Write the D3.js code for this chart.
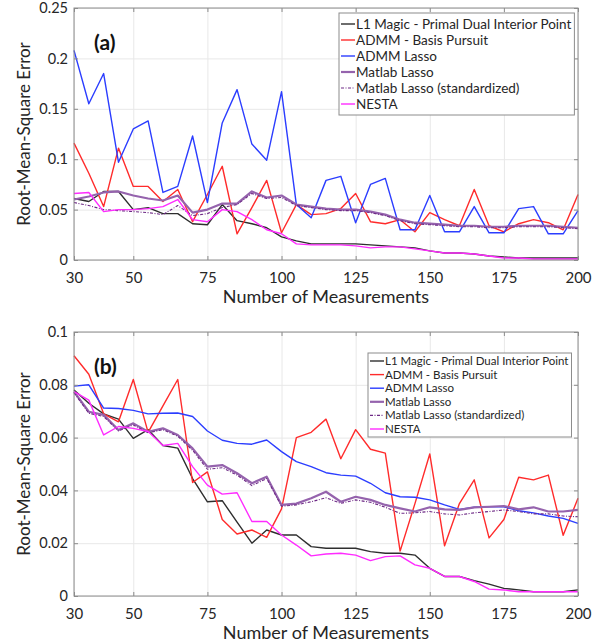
<!DOCTYPE html>
<html>
<head>
<meta charset="utf-8">
<script src="https://cdn.jsdelivr.net/npm/d3@7"></script>
<style>
body { margin: 0; background: #fff; }
svg text { font-family: Lato, "Open Sans", sans-serif; fill: #262626; }
.grid line { stroke: #e8e8e8; }
.grid path { display: none; }
.axis path { display: none; }
.axis line { stroke: #8c8c8c; }
</style>
</head>
<body>
<svg id="chart" width="607" height="642"></svg>
<script>
// number of measurements (x) and tick labels
var measurements = [30, 35, 40, 45, 50, 55, 60, 65, 70, 75, 80, 85, 90, 95, 100, 105, 110, 115, 120,
  125, 130, 135, 140, 145, 150, 155, 160, 165, 170, 175, 180, 185, 190, 195, 200];
var xTicks = [30, 50, 75, 100, 125, 150, 175, 200];
var yTicksA = [0, 0.05, 0.1, 0.15, 0.2, 0.25];
var yTicksB = [0, 0.02, 0.04, 0.06, 0.08, 0.1];

var seriesNames = ['L1 Magic - Primal Dual Interior Point', 'ADMM - Basis Pursuit', 'ADMM Lasso',
  'Matlab Lasso', 'Matlab Lasso (standardized)', 'NESTA'];

// panel (a)
var a_l1 = [0.061, 0.058, 0.068, 0.068, 0.050, 0.052, 0.046, 0.046, 0.036, 0.035, 0.055, 0.039, 0.036, 0.032, 0.023,
  0.019, 0.016, 0.016, 0.016, 0.016, 0.015, 0.014, 0.013, 0.012, 0.009, 0.007, 0.007, 0.006, 0.004, 0.003,
  0.002, 0.002, 0.002, 0.002, 0.002];
var a_bp = [0.116, 0.086, 0.053, 0.111, 0.073, 0.073, 0.058, 0.070, 0.038, 0.065, 0.093, 0.026, 0.052, 0.079, 0.027,
  0.055, 0.045, 0.046, 0.051, 0.066, 0.038, 0.036, 0.040, 0.028, 0.047, 0.040, 0.034, 0.070, 0.034, 0.028,
  0.036, 0.040, 0.037, 0.030, 0.065];
var a_lasso = [0.208, 0.155, 0.185, 0.097, 0.130, 0.138, 0.067, 0.073, 0.123, 0.057, 0.136, 0.169, 0.115, 0.099, 0.167,
  0.055, 0.042, 0.079, 0.083, 0.037, 0.075, 0.081, 0.030, 0.030, 0.064, 0.028, 0.028, 0.053, 0.027, 0.027,
  0.051, 0.053, 0.026, 0.026, 0.049];
var a_matlab = [0.060, 0.063, 0.067, 0.068, 0.064, 0.061, 0.059, 0.064, 0.047, 0.050, 0.056, 0.056, 0.068, 0.062, 0.064,
  0.055, 0.053, 0.051, 0.050, 0.050, 0.048, 0.045, 0.040, 0.037, 0.036, 0.035, 0.034, 0.034, 0.033, 0.033,
  0.034, 0.034, 0.034, 0.033, 0.032];
var a_matlabStd = [0.057, 0.054, 0.050, 0.049, 0.048, 0.047, 0.045, 0.054, 0.044, 0.046, 0.052, 0.055, 0.066, 0.061, 0.062,
  0.054, 0.052, 0.050, 0.049, 0.049, 0.047, 0.044, 0.039, 0.036, 0.035, 0.034, 0.033, 0.033, 0.032, 0.032,
  0.033, 0.033, 0.033, 0.032, 0.031];
var a_nesta = [0.066, 0.067, 0.048, 0.050, 0.050, 0.051, 0.053, 0.060, 0.040, 0.038, 0.050, 0.048, 0.040, 0.030, 0.026,
  0.016, 0.015, 0.015, 0.015, 0.014, 0.012, 0.013, 0.013, 0.011, 0.009, 0.007, 0.007, 0.006, 0.004, 0.002,
  0.002, 0.001, 0.001, 0.001, 0.001];

// panel (b)
var b_l1 = [0.078, 0.073, 0.069, 0.067, 0.0597, 0.063, 0.057, 0.056, 0.0445, 0.0357, 0.0361, 0.028, 0.020, 0.025, 0.0231,
  0.0231, 0.0187, 0.0181, 0.0181, 0.0181, 0.0168, 0.0162, 0.0162, 0.0155, 0.0105, 0.0074, 0.0074, 0.0058, 0.0045, 0.0029,
  0.0023, 0.0016, 0.0016, 0.0016, 0.0023];
var b_bp = [0.091, 0.084, 0.069, 0.066, 0.082, 0.062, 0.072, 0.082, 0.043, 0.047, 0.029, 0.0235, 0.025, 0.0222, 0.033,
  0.060, 0.062, 0.067, 0.052, 0.063, 0.0556, 0.0541, 0.017, 0.035, 0.0538, 0.019, 0.035, 0.044, 0.022, 0.029,
  0.045, 0.044, 0.0458, 0.023, 0.037];
var b_lasso = [0.0795, 0.0800, 0.0712, 0.0710, 0.0703, 0.0690, 0.0692, 0.0693, 0.0680, 0.0625, 0.0590, 0.0578, 0.0575, 0.0591, 0.0547,
  0.0509, 0.0490, 0.0467, 0.0458, 0.0454, 0.0427, 0.0391, 0.0376, 0.0374, 0.0364, 0.0345, 0.0328, 0.0336, 0.0338, 0.0338,
  0.0323, 0.0315, 0.0303, 0.0294, 0.0275];
var b_matlab = [0.0774, 0.0698, 0.0686, 0.0629, 0.0654, 0.0622, 0.0635, 0.0610, 0.0559, 0.0490, 0.0496, 0.0465, 0.0427, 0.0452, 0.0345,
  0.0350, 0.0370, 0.0395, 0.0357, 0.0376, 0.0364, 0.0345, 0.0332, 0.0320, 0.0336, 0.0328, 0.0326, 0.0336, 0.0338, 0.0341,
  0.0328, 0.0336, 0.0320, 0.0320, 0.0326];
var b_matlabStd = [0.0770, 0.0692, 0.0680, 0.0625, 0.0648, 0.0618, 0.0630, 0.0605, 0.0552, 0.0480, 0.0486, 0.0458, 0.0418, 0.0445, 0.0340,
  0.0345, 0.0357, 0.0372, 0.0351, 0.0364, 0.0355, 0.0336, 0.0313, 0.0315, 0.0320, 0.0311, 0.0307, 0.0315, 0.0320, 0.0326,
  0.0320, 0.0311, 0.0311, 0.0303, 0.0300];
var b_nesta = [0.0774, 0.0742, 0.0610, 0.0642, 0.0635, 0.0623, 0.0570, 0.0578, 0.0490, 0.0420, 0.0386, 0.0391, 0.0282, 0.0282, 0.0231,
  0.0193, 0.0152, 0.0159, 0.0162, 0.0155, 0.0134, 0.0149, 0.0152, 0.0118, 0.0105, 0.0074, 0.0074, 0.0055, 0.0026, 0.0023,
  0.0016, 0.0016, 0.0016, 0.0016, 0.0016];

var styles = [
  { color: '#2e2e2e', width: 1.4, dash: null },
  { color: '#ff2b2b', width: 1.4, dash: null },
  { color: '#2b3dff', width: 1.4, dash: null },
  { color: '#9563ad', width: 2.2, dash: null },
  { color: '#6e2a86', width: 1.1, dash: '3,1.5,1,1.5' },
  { color: '#ff2bff', width: 1.4, dash: null }
];

var svg = d3.select('#chart');
var left = 74, right = 578;

function drawPanel(p) {
  var x = d3.scaleLinear().domain([30, 200]).range([left, right]);
  var y = d3.scaleLinear().domain([0, p.yMax]).range([p.top + p.h, p.top]);
  var g = svg.append('g');

  g.append('g').attr('class', 'grid')
    .attr('transform', 'translate(0,' + (p.top + p.h) + ')')
    .call(d3.axisBottom(x).tickValues(xTicks).tickSize(-p.h).tickFormat(''));
  g.append('g').attr('class', 'grid')
    .attr('transform', 'translate(' + left + ',0)')
    .call(d3.axisLeft(y).tickValues(p.yTicks).tickSize(-(right - left)).tickFormat(''));

  var line = d3.line()
    .x(function(d, i) { return x(measurements[i]); })
    .y(function(d) { return y(d); });

  p.series.forEach(function(s, i) {
    g.append('path')
      .attr('d', line(s))
      .attr('fill', 'none')
      .attr('stroke', styles[i].color)
      .attr('stroke-width', styles[i].width)
      .attr('stroke-dasharray', styles[i].dash)
      .attr('stroke-linejoin', 'round');
  });

  // axes with inward ticks
  g.append('g').attr('class', 'axis')
    .attr('transform', 'translate(0,' + (p.top + p.h) + ')')
    .call(d3.axisBottom(x).tickValues(xTicks).tickSizeInner(-4).tickSizeOuter(0).tickPadding(12))
    .selectAll('text').style('font-size', '15px');
  g.append('g').attr('class', 'axis')
    .attr('transform', 'translate(0,' + p.top + ')')
    .call(d3.axisTop(x).tickValues(xTicks).tickSizeInner(-4).tickSizeOuter(0).tickFormat(''));
  g.append('g').attr('class', 'axis')
    .attr('transform', 'translate(' + left + ',0)')
    .call(d3.axisLeft(y).tickValues(p.yTicks).tickSizeInner(-4).tickSizeOuter(0).tickPadding(6)
      .tickFormat(d3.format('~g')))
    .selectAll('text').style('font-size', '14.5px');
  g.append('g').attr('class', 'axis')
    .attr('transform', 'translate(' + right + ',0)')
    .call(d3.axisRight(y).tickValues(p.yTicks).tickSizeInner(-4).tickSizeOuter(0).tickFormat(''));

  g.append('rect')
    .attr('x', left).attr('y', p.top)
    .attr('width', right - left).attr('height', p.h)
    .attr('fill', 'none').attr('stroke', '#8c8c8c');

  g.append('text')
    .attr('x', (left + right) / 2).attr('y', p.top + p.h + 43)
    .attr('text-anchor', 'middle').style('font-size', '18px')
    .text('Number of Measurements');

  g.append('text')
    .attr('transform', 'translate(30,' + (p.top + p.h / 2) + ') rotate(-90)')
    .attr('text-anchor', 'middle').style('font-size', '17px')
    .text('Root-Mean-Square Error');

  g.append('text')
    .attr('x', left + 20).attr('y', p.top + 42)
    .style('font-size', '21px').style('font-weight', 'bold').style('fill', '#111')
    .text(p.label);

  // legend
  var lg = g.append('g').attr('transform', 'translate(' + p.legend.x + ',' + p.legend.y + ')');
  var box = lg.append('rect').attr('fill', '#fff').attr('stroke', '#8c8c8c');
  var maxW = 0;
  seriesNames.forEach(function(name, i) {
    var cy = p.legend.first + i * p.legend.row;
    lg.append('line')
      .attr('x1', 2).attr('x2', 16).attr('y1', cy).attr('y2', cy)
      .attr('stroke', styles[i].color)
      .attr('stroke-width', styles[i].width)
      .attr('stroke-dasharray', styles[i].dash);
    var t = lg.append('text')
      .attr('x', 17).attr('y', cy).attr('dy', '0.35em')
      .style('font-size', p.legend.font + 'px')
      .text(name);
    maxW = Math.max(maxW, t.node().getComputedTextLength());
  });
  box.attr('width', maxW + 20)
    .attr('height', p.legend.first * 2 + (seriesNames.length - 1) * p.legend.row);
}

drawPanel({
  top: 8, h: 252, yMax: 0.25, yTicks: yTicksA, label: '(a)',
  series: [a_l1, a_bp, a_lasso, a_matlab, a_matlabStd, a_nesta],
  legend: { x: 339, y: 13, first: 11, row: 16, font: 13.5 }
});

drawPanel({
  top: 332, h: 264, yMax: 0.1, yTicks: yTicksB, label: '(b)',
  series: [b_l1, b_bp, b_lasso, b_matlab, b_matlabStd, b_nesta],
  legend: { x: 368, y: 353, first: 8, row: 13.6, font: 11.5 }
});
</script>
</body>
</html>
